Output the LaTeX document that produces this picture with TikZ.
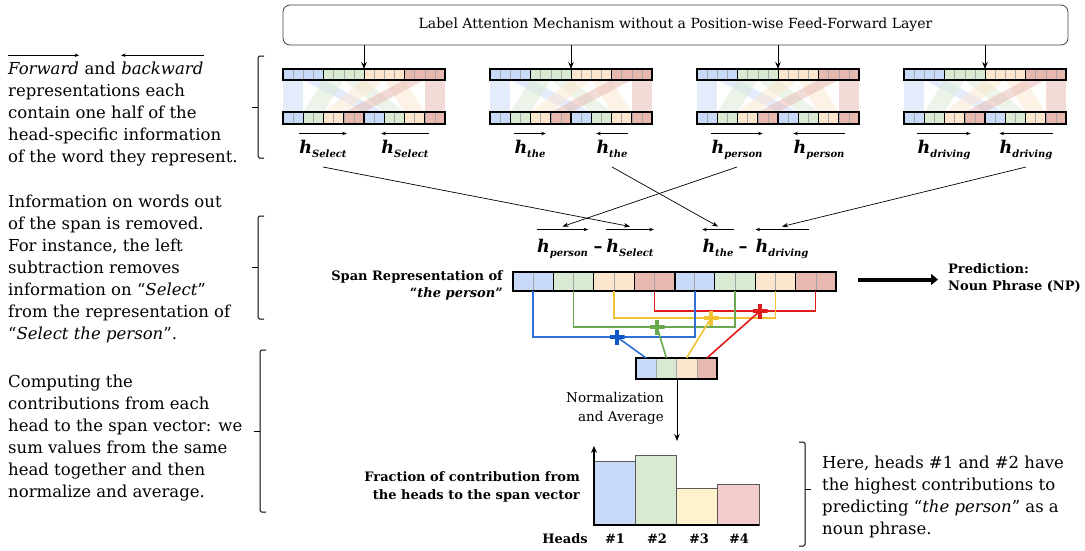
\documentclass[tikz,border=0pt]{standalone}
\usepackage{fontspec}
\setmainfont{DejaVu Serif}
\usetikzlibrary{calc,arrows.meta}
\definecolor{cb}{HTML}{C9DAF8}
\definecolor{cg}{HTML}{D9EAD3}
\definecolor{co}{HTML}{FCE5CD}
\definecolor{cr}{HTML}{E6B8AF}
\definecolor{by}{HTML}{FFF2CC}
\definecolor{brd}{HTML}{F4CCCC}
\definecolor{lb}{HTML}{2F6FD8}
\definecolor{pbl}{HTML}{1155CC}
\definecolor{lg}{HTML}{6AA84F}
\definecolor{ly}{HTML}{F1C232}
\definecolor{lr}{HTML}{E01B1B}
\newcommand\hh[1]{{\fontsize{17.5}{18}\selectfont\bfseries\itshape h\raisebox{-4pt}{\fontsize{10}{10}\selectfont #1}}}
\tikzset{
  topbox/.style={draw=black!75, line width=0.8pt, rounded corners=7pt, minimum width=785pt, minimum height=40pt, font=\fontsize{14}{16}\selectfont, inner sep=0},
  rowbox/.style={draw, line width=1.5pt, inner sep=0, outer sep=0},
  hlab/.style={anchor=base, inner sep=0},
  ov/.style={line width=0.7pt, -{Stealth[length=4.5pt,width=3.5pt]}},
  ovl/.style={line width=0.7pt, {Stealth[length=4.5pt,width=3.5pt]}-},
  conn/.style={line width=0.7pt, -{Stealth[length=6pt,width=4.5pt]}},
  down/.style={line width=0.9pt, -{Stealth[length=7pt,width=5.5pt]}},
  ptext/.style={font=\fontsize{16.5}{22}\selectfont, anchor=base west, inner sep=0},
  bold13/.style={font=\fontsize{13}{16}\selectfont\bfseries, inner sep=0},
  brk/.style={line width=1pt, rounded corners=1.5pt},
  gline/.style={draw=black!35, line width=0.5pt},
  plus/.style={minimum size=15pt, inner sep=0, path picture={\draw[line width=4.6pt, #1] (path picture bounding box.west) -- (path picture bounding box.east) (path picture bounding box.north) -- (path picture bounding box.south);}},
  cl/.style={line width=1.6pt},
  bar/.style={draw=black!65, line width=0.8pt},
  axis/.style={line width=1.6pt}
}
\begin{document}
\begin{tikzpicture}[x=1pt,y=-1pt]
\useasboundingbox (0,0) rectangle (1085,550);
% top box
\node[topbox] (lam) at (675.5,25) {Label Attention Mechanism without a Position-wise Feed-Forward Layer};
% blocks
\foreach \bx/\w [count=\bi] in {283/Select,490/the,697/person,904/driving}{
  \foreach \c/\col in {0/cb,1/cg,2/co,3/cr}{
    \foreach \h in {0,1}{
      \pgfmathsetmacro\ta{\bx+(4*\c+2*\h)*10.125}
      \pgfmathsetmacro\ba{\bx+(8*\h+2*\c)*10.125}
      \fill[\col, fill opacity=0.5] (\ta,80) -- (\ta+20.25,80) -- (\ba+20.25,112) -- (\ba,112) -- cycle;
      \fill[\col] (\bx+\h*81+\c*20.25,112) rectangle ++(20.25,12);
    }
    \fill[\col] (\bx+\c*40.5,69) rectangle ++(40.5,11);
  }
  \foreach \k in {1,...,15}{
    \draw[gline] (\bx+\k*10.125,69) -- ++(0,11);
    \draw[gline] (\bx+\k*10.125,112) -- ++(0,12);
  }
  \foreach \k in {1,2,3}{
    \draw[line width=0.9pt] (\bx+\k*40.5,69) -- ++(0,11);
  }
  \foreach \k in {1,2,3,5,6,7}{
    \draw[line width=0.7pt] (\bx+\k*20.25,112) -- ++(0,12);
  }
  \draw[line width=2pt] (\bx+81,112) -- ++(0,12);
  \node[rowbox, minimum width=162pt, minimum height=11pt] (t\bi) at (\bx+81,74.5) {};
  \node[rowbox, minimum width=162pt, minimum height=12pt] (b\bi) at (\bx+81,118) {};
  \draw[down] (lam.south -| t\bi.north) -- (t\bi.north);
  \node[hlab] (f\bi) at (\bx+40,153) {\hh{\w}};
  \node[hlab] (k\bi) at (\bx+122,153) {\hh{\w}};
  \draw[ov] ([yshift=6pt]f\bi.north west) -- ([yshift=6pt]f\bi.north east);
  \draw[ovl] ([yshift=6pt]k\bi.north west) -- ([yshift=6pt]k\bi.north east);
}
% middle labels
\node[hlab] (mP) at (562.5,252) {\hh{person}};
\node[hlab] (m1) at (598,252) {\fontsize{18}{18}\selectfont\bfseries –};
\node[hlab] (mS) at (630,252) {\hh{Select}};
\node[hlab] (mT) at (718,252) {\hh{the}};
\node[hlab] (m2) at (743,252) {\fontsize{18}{18}\selectfont\bfseries –};
\node[hlab] (mD) at (782,252) {\hh{driving}};
\draw[ov] ([yshift=9pt]mP.north west) -- ([yshift=9pt]mP.north east);
\draw[ov] ([yshift=9pt]mS.north west) -- ([yshift=9pt]mS.north east);
\draw[ovl] ([yshift=9pt]mT.north west) -- ([yshift=9pt]mT.north east);
\draw[ovl] ([yshift=9pt]mD.north west) -- ([yshift=9pt]mD.north east);
\draw[conn] ([yshift=-14pt]f1.base) -- ([yshift=12pt]mS.north);
\draw[conn] ([yshift=-14pt]f3.base) -- ([yshift=12pt]mP.north);
\draw[conn] ([yshift=-14pt]k2.base) -- ([yshift=12pt]mT.north);
\draw[conn] ([yshift=-14pt]k4.base) -- ([yshift=12pt]mD.north);
% span representation
\foreach \h in {0,1}{
  \foreach \c/\col in {0/cb,1/cg,2/co,3/cr}{
    \fill[\col] (513+\h*161.5+\c*40.375,272) rectangle ++(40.375,19);
  }
}
\foreach \k in {1,3,5,7,9,11,13,15}{\draw[gline] (513+\k*20.1875,272) -- ++(0,19);}
\foreach \k in {1,2,3,5,6,7}{\draw[line width=0.8pt] (513+\k*40.375,272) -- ++(0,19);}
\draw[line width=2pt] (674.5,272) -- ++(0,19);
\node[rowbox, minimum width=323pt, minimum height=19pt] (span) at (674.5,281.5) {};
\node[bold13, anchor=base east] (sp1) at (503,280) {Span Representation of};
\node[bold13, anchor=base east] (sp2) at (503,297) {“\textit{the person}”};
% prediction
\node[bold13, anchor=base west] (pred) at (948,273) {Prediction:};
\node[bold13, anchor=base west] (pred2) at (948,290) {Noun Phrase (NP)};
\draw[line width=4pt, -{Triangle[length=7pt,width=11pt]}] ([xshift=22pt,yshift=2pt]span.east) -- ([xshift=-10pt,yshift=2pt]span.east -| pred.west);
% sum box
\foreach \c/\col in {0/cb,1/cg,2/co,3/cr}{\fill[\col] (636+\c*20.25,358) rectangle ++(20.25,21);}
\foreach \k in {1,2,3}{\draw[gline] (636+\k*20.25,358) -- ++(0,21);}
\node[rowbox, minimum width=81pt, minimum height=21pt] (sum) at (676.5,368.5) {};
% colored sums
\coordinate (pbc) at (617,337);
\coordinate (pgc) at (657,327);
\coordinate (pyc) at (711,318);
\coordinate (prc) at (760,311);
\draw[cl, lr] ($(span.south west)+(141.5,0)$) |- (prc) -| ($(span.south west)+(302.5,0)$);
\draw[cl, ly] ($(span.south west)+(101,0)$) |- (pyc) -| ($(span.south west)+(262.5,0)$);
\draw[cl, lg] ($(span.south west)+(60.5,0)$) |- (pgc) -| ($(span.south west)+(222,0)$);
\draw[cl, lb] ($(span.south west)+(20,0)$) |- (pbc) -| ($(span.south west)+(182,0)$);
\draw[cl, lb] (pbc) -- ($(sum.north west)+(10.1,0)$);
\draw[cl, lg] (pgc) -- ($(sum.north west)+(30.4,0)$);
\draw[cl, ly] (pyc) -- ($(sum.north west)+(50.6,0)$);
\draw[cl, lr] (prc) -- ($(sum.north west)+(70.9,0)$);
\node[plus=pbl] (pb) at (pbc) {};
\node[plus=lg] (pg) at (pgc) {};
\node[plus=ly] (py) at (pyc) {};
\node[plus=lr] (pr) at (prc) {};
% normalization
\coordinate (chtop) at (677,441);
\draw[down] (sum.south -| chtop) -- (chtop);
\node[font=\fontsize{13.5}{19}\selectfont, align=right, anchor=east, inner sep=0] (norm) at (664,408) {Normalization\\and Average};
% chart
\draw[bar, fill=cb] (594,525) rectangle (635.25,461);
\draw[bar, fill=cg] (635.25,525) rectangle (676.5,455);
\draw[bar, fill=by] (676.5,525) rectangle (717.75,488);
\draw[bar, fill=brd] (717.75,525) rectangle (759,484);
\draw[axis] (759,525) -- (594,525);
\draw[axis, -{Stealth[length=7pt,width=6pt]}] (594,525.8) -- (594,446);
\node[bold13, anchor=base east] (hd) at (588,543) {Heads};
\node[bold13, anchor=base] (h1) at (615,543) {\#1};
\node[bold13, anchor=base] (h2) at (657,543) {\#2};
\node[bold13, anchor=base] (h3) at (699,543) {\#3};
\node[bold13, anchor=base] (h4) at (739,543) {\#4};
\node[bold13, anchor=base east] (fr1) at (580,481) {Fraction of contribution from};
\node[bold13, anchor=base east] (fr2) at (580,499) {the heads to the span vector};
% brackets
\draw[brk] (264,56) -- (258,56) -- (258,158) -- (264,158);
\draw[brk] (258,107) -- (252,107);
\draw[brk] (264,216) -- (258,216) -- (258,319) -- (264,319);
\draw[brk] (258,267.5) -- (252,267.5);
\draw[brk] (266,350) -- (260,350) -- (260,512) -- (266,512);
\draw[brk] (260,431) -- (254,431);
\draw[brk] (799,442) -- (805,442) -- (805,546) -- (799,546);
\draw[brk] (805,489) -- (811,489);
% left paragraph 1
\node[ptext] (fw) at (8,74) {\itshape Forward};
\node[ptext] (an) at (fw.base east) {\ and\ \mbox{}};
\node[ptext] (bw) at (an.base east) {\itshape backward};
\draw[ov] ([yshift=6pt]fw.north west) -- ([yshift=6pt]fw.north east);
\draw[ovl] ([yshift=6pt]bw.north west) -- ([yshift=6pt]bw.north east);
\foreach \t [count=\i from 1] in {representations each, contain one half of the, head-specific information, of the word they represent.}{
  \node[ptext] (pa\i) at (8,74+22*\i) {\t};
}
\foreach \t [count=\i from 0] in {Information on words out, of the span is removed., {For instance, the left}, subtraction removes, information on “\textit{Select}”, from the representation of, “\textit{Select the person}”.}{
  \node[ptext] (pb\i) at (8,207+22*\i) {\t};
}
\foreach \t [count=\i from 0] in {Computing the, contributions from each, head to the span vector: we, sum values from the same, head together and then, normalize and average.}{
  \node[ptext] (pc\i) at (8,387+22*\i) {\t};
}
\foreach \t [count=\i from 0] in {{Here, heads \#1 and \#2 have}, the highest contributions to, predicting “\textit{the person}” as a, noun phrase.}{
  \node[ptext] (pd\i) at (822,468+22*\i) {\t};
}
\end{tikzpicture}
\end{document}
